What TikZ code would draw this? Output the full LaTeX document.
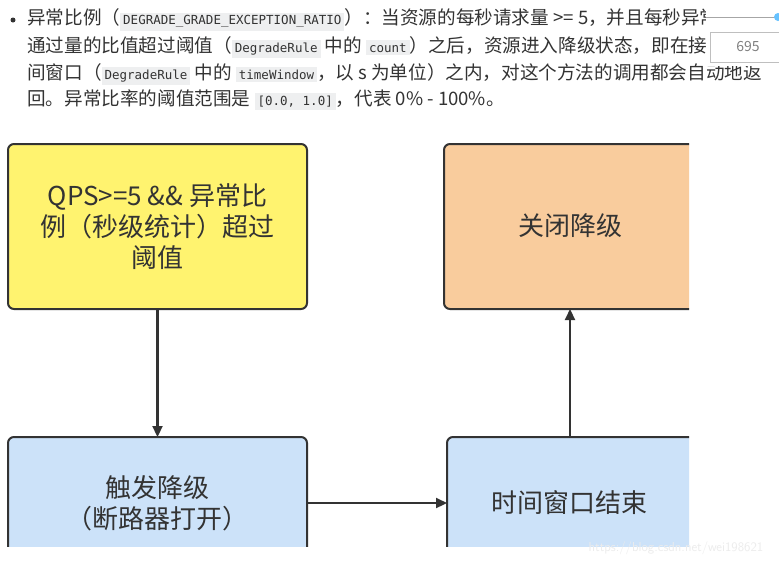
\documentclass[tikz,border=0pt]{standalone}
\usepackage{fontspec}
\setmainfont{Noto Sans CJK SC}
\setmonofont{DejaVu Sans Mono}
\usetikzlibrary{arrows.meta}
\definecolor{codebg}{HTML}{EEEFF0}
\definecolor{txt}{HTML}{333333}
\newcommand{\cd}[1]{{\setlength{\fboxsep}{3pt}\colorbox{codebg}{\fontsize{12.5}{14}\ttfamily #1}}}
\tikzset{
  box/.style={draw=txt, line width=2pt, rounded corners=6pt, inner sep=0pt},
  lbl/.style={font=\fontsize{26}{31}\selectfont, text=txt, align=center},
  arr/.style={draw=txt, line width=2.2pt, -{Triangle[length=11pt,width=10pt]}},
  para/.style={anchor=west, inner sep=0pt, text=txt, font=\fontsize{18.6}{20}\selectfont}
}
\begin{document}
\begin{tikzpicture}[x=1pt,y=-1pt]
\useasboundingbox (0,0) rectangle (779,566);
\fill[white] (0,0) rectangle (779,566);
\fill[txt] (13,20) circle (2.5);
\node[para] (l1) at (27,20) {异常比例（\cd{DEGRADE\_GRADE\_EXCEPTION\_RATIO}）：当资源的每秒请求量 >= 5，并且每秒异常};
\node[para] (l2) at (27,47) {通过量的比值超过阈值（\cd{DegradeRule} 中的 \cd{count}）之后，资源进入降级状态，即在接下};
\node[para] (l3) at (27,74) {间窗口（\cd{DegradeRule} 中的 \cd{timeWindow}，以 s 为单位）之内，对这个方法的调用都会自动地返};
\node[para] (l4) at (27,100) {回。异常比率的阈值范围是 \cd{[0.0, 1.0]}，代表 0\% - 100\%。};
% widget
\fill[white] (706,0) rectangle (779,30);
\fill[white] (706,30) rectangle (779,66);
\draw[gray!70, line width=0.8pt] (706,17) -- (775,17);
\fill[blue!40!cyan!60] (778,17) circle (4);
\draw[gray!50, fill=white] (710,32) rectangle (785,62);
\node[text=gray, font=\fontsize{14}{16}\selectfont] (w) at (748,47) {695};
\begin{scope}
\clip (0,120) rectangle (689,546);
\node[box, fill={rgb,255:red,255;green,243;blue,111}, minimum width=299pt, minimum height=165pt] (y) at (157.5,226.5) {};
\node[lbl] at (y) {QPS>=5 \&\& 异常比\\例（秒级统计）超过\\阈值};
\node[box, fill={rgb,255:red,249;green,204;blue,157}, minimum width=260pt, minimum height=165pt] (o) at (574,226.5) {};
\node[lbl] at (570,226) {关闭降级};
\node[box, fill={rgb,255:red,204;green,226;blue,249}, minimum width=299pt, minimum height=140pt] (b1) at (157.5,507) {};
\node[lbl] at (157,503) {触发降级\\（断路器打开）};
\node[box, fill={rgb,255:red,204;green,226;blue,249}, minimum width=260pt, minimum height=140pt] (b2) at (577,507) {};
\node[lbl] at (569,503) {时间窗口结束};
\draw[arr] (157.5,309) -- (157.5,437);
\draw[arr] (307,503) -- (447,503);
\draw[arr] (570,437) -- (570,309);
\end{scope}
\node[text=white!85!gray, font=\fontsize{13}{15}\selectfont\sffamily] (wm) at (676,548) {https://blog.csdn.net/wei198621};
\end{tikzpicture}
\end{document}
